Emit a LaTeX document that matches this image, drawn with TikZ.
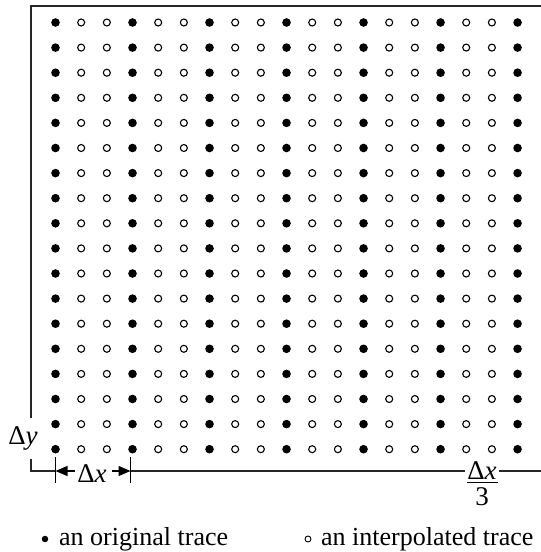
\documentclass[tikz,border=0pt]{standalone}
\usepackage{fontspec}
\setmainfont{Liberation Serif}
\usetikzlibrary{arrows.meta}
\begin{document}
\begin{tikzpicture}[x=1pt,y=-1pt,
  frame/.style={line width=1.2pt,draw=black!85},
  fulldot/.style={circle,fill=black,inner sep=0pt,minimum size=8.6pt},
  opendot/.style={circle,draw=black,line width=1.1pt,fill=white,inner sep=0pt,minimum size=7pt},
  lbl/.style={inner sep=0pt,font=\fontsize{27}{31}\selectfont},
  leg/.style={inner sep=0pt,font=\fontsize{26}{30}\selectfont},
  dimarrow/.style={line width=1.2pt,-{Triangle[length=12pt,width=10pt]}},
  tick/.style={line width=1.3pt}]
\useasboundingbox (0,0) rectangle (541,552);
% dots
\foreach \i in {0,...,18}{
  \foreach \j in {0,...,17}{
    \pgfmathtruncatemacro{\m}{mod(\i,3)}
    \ifnum\m=0
      \node[fulldot] (d-\i-\j) at ({55.5+25.67*\i},{22.5+25.1*\j}) {};
    \else
      \node[opendot] (d-\i-\j) at ({55.5+25.67*\i},{22.5+25.1*\j}) {};
    \fi
  }
}
% frame coordinates
\coordinate (tl) at (31,6);
\coordinate (tr) at (541,6);
\coordinate (lgap1) at (31,418);
\coordinate (lgap2) at (31,459);
\coordinate (bl) at (31,471);
\coordinate (t1) at (55.5,471);
\coordinate (t2) at (130.5,471);
\coordinate (fg1) at (465,471);
\coordinate (fg2) at (499,471);
\coordinate (br) at (541,471);
\coordinate (t1a) at (55.5,457);
\coordinate (t1b) at (55.5,483);
\coordinate (t2a) at (130.5,457);
\coordinate (t2b) at (130.5,483);
\draw[frame] (lgap1) -- (tl) -- (tr);
\draw[frame] (lgap2) -- (bl) -- (t1);
\draw[frame] (t2) -- (fg1);
\draw[frame] (fg2) -- (br);
\draw[tick] (t1a) -- (t1b);
\draw[tick] (t2a) -- (t2b);
% labels
\node[lbl] (dy) at (23,438) {Δ\textit{y}};
\node[lbl] (dx) at (92,474) {Δ\textit{x}};
\coordinate (ax1) at (75,471);
\coordinate (ax2) at (112,471);
\draw[dimarrow] (ax1) -- (t1);
\draw[dimarrow] (ax2) -- (t2);
\node[lbl] (num) at (482,471) {Δ\textit{x}};
\coordinate (bar1) at (467,482.5);
\coordinate (bar2) at (498,482.5);
\draw[line width=1.1pt] (bar1) -- (bar2);
\node[lbl] (den) at (482,497) {3};
% legend
\node[fulldot,minimum size=6.5pt] (lf) at (45,539) {};
\node[leg,anchor=base west] (lft) at (59,545) {an original trace};
\node[opendot,minimum size=6pt,line width=0.9pt] (lo) at (308,539) {};
\node[leg,anchor=base west] (lot) at (321,545) {an interpolated trace};
\end{tikzpicture}
\end{document}
